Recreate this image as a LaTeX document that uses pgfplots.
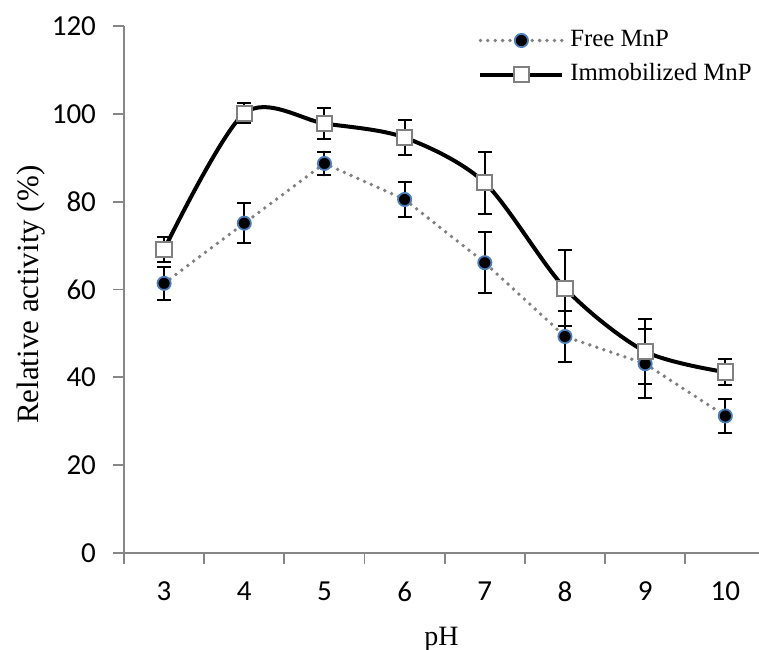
\documentclass[border=0pt]{standalone}
\usepackage{fontspec}
\setmainfont{Liberation Serif}
\newfontfamily\tickfont{Carlito}
\usepackage{pgfplots}
\usepackage{pgfplotstable}
\pgfplotsset{compat=1.18}

\definecolor{axgray}{HTML}{868686}
\definecolor{ptgray}{HTML}{808080}
\definecolor{mkblue}{HTML}{4A7EBB}

% pH, free MnP, its error, immobilized MnP, its error
\pgfplotstableread{
ph free ferr immo ierr
3  61.4 3.7 69.1 2.8
4  75.1 4.5 100.1 2.3
5  88.7 2.7 97.8 3.5
6  80.5 4.0 94.6 3.9
7  66.1 6.9 84.3 7.0
8  49.3 5.7 60.3 8.7
9  43.1 7.9 45.9 7.4
10 31.2 3.8 41.2 3.0
}\mnp

\begin{document}
\begin{tikzpicture}
\useasboundingbox (-62pt,-48pt) rectangle (317.5pt,276.5pt);
\begin{axis}[
    scale only axis, width=317.5pt, height=263.5pt,
    xmin=2.5, xmax=10.42, ymin=0, ymax=120,
    axis x line=bottom, axis y line=left,
    axis line style={axgray, line width=0.9pt, -},
    tick style={axgray, line width=0.9pt},
    tick align=outside, major tick length=5.5pt,
    xtick={2.5,3.5,...,10.5}, xticklabels={},
    extra x ticks={3,4,5,6,7,8,9,10},
    extra x tick labels={3,4,5,6,7,8,9,10},
    extra x tick style={major tick length=0pt},
    ytick={0,20,...,120},
    tick label style={font=\tickfont\fontsize{14.5}{17}\selectfont, black},
    xticklabel style={yshift=-11pt},
    yticklabel style={xshift=-5pt},
    /pgf/number format/assume math mode=true,
    xlabel={pH}, ylabel={Relative activity (\%)},
    every axis x label/.style={at={(axis description cs:0.5,-0.1746)}, anchor=base,
        font=\fontsize{14}{17}\selectfont},
    every axis y label/.style={at={(axis description cs:-0.1465,0.49)}, rotate=90, anchor=center,
        font=\fontsize{15.5}{18}\selectfont},
    legend style={at={(axis description cs:0.5575,0.996)}, anchor=north west,
        draw=none, fill=none, inner sep=0pt, row sep=5pt, column sep=3pt,
        font=\fontsize{12.4}{14}\selectfont,
        nodes={inner sep=0pt, text height=9pt, text depth=3pt}},
    legend cell align=left,
    legend image code/.code={
        \draw[mark repeat=2, mark phase=2, #1] plot coordinates {(0pt,0pt) (20.5pt,0pt) (41pt,0pt)};},
    error bars/y dir=both, error bars/y explicit,
    error bars/error bar style={solid, black, line width=1pt},
    error bars/error mark options={rotate=90, black, mark size=3.5pt, line width=1pt},
]
\addplot[ptgray, line width=1.9pt, line cap=round, dash pattern=on 0pt off 3.7pt,
    mark=*, mark size=3.3pt, mark options={solid, fill=black, draw=mkblue, line width=0.9pt}]
    table[x=ph, y=free, y error=ferr] {\mnp};
\addplot[black, line width=2pt, smooth,
    mark=square*, mark size=3.8pt, mark options={solid, fill=white, draw=ptgray, line width=1pt}]
    table[x=ph, y=immo, y error=ierr] {\mnp};
\legend{Free MnP, Immobilized MnP}
\end{axis}
\end{tikzpicture}
\end{document}
